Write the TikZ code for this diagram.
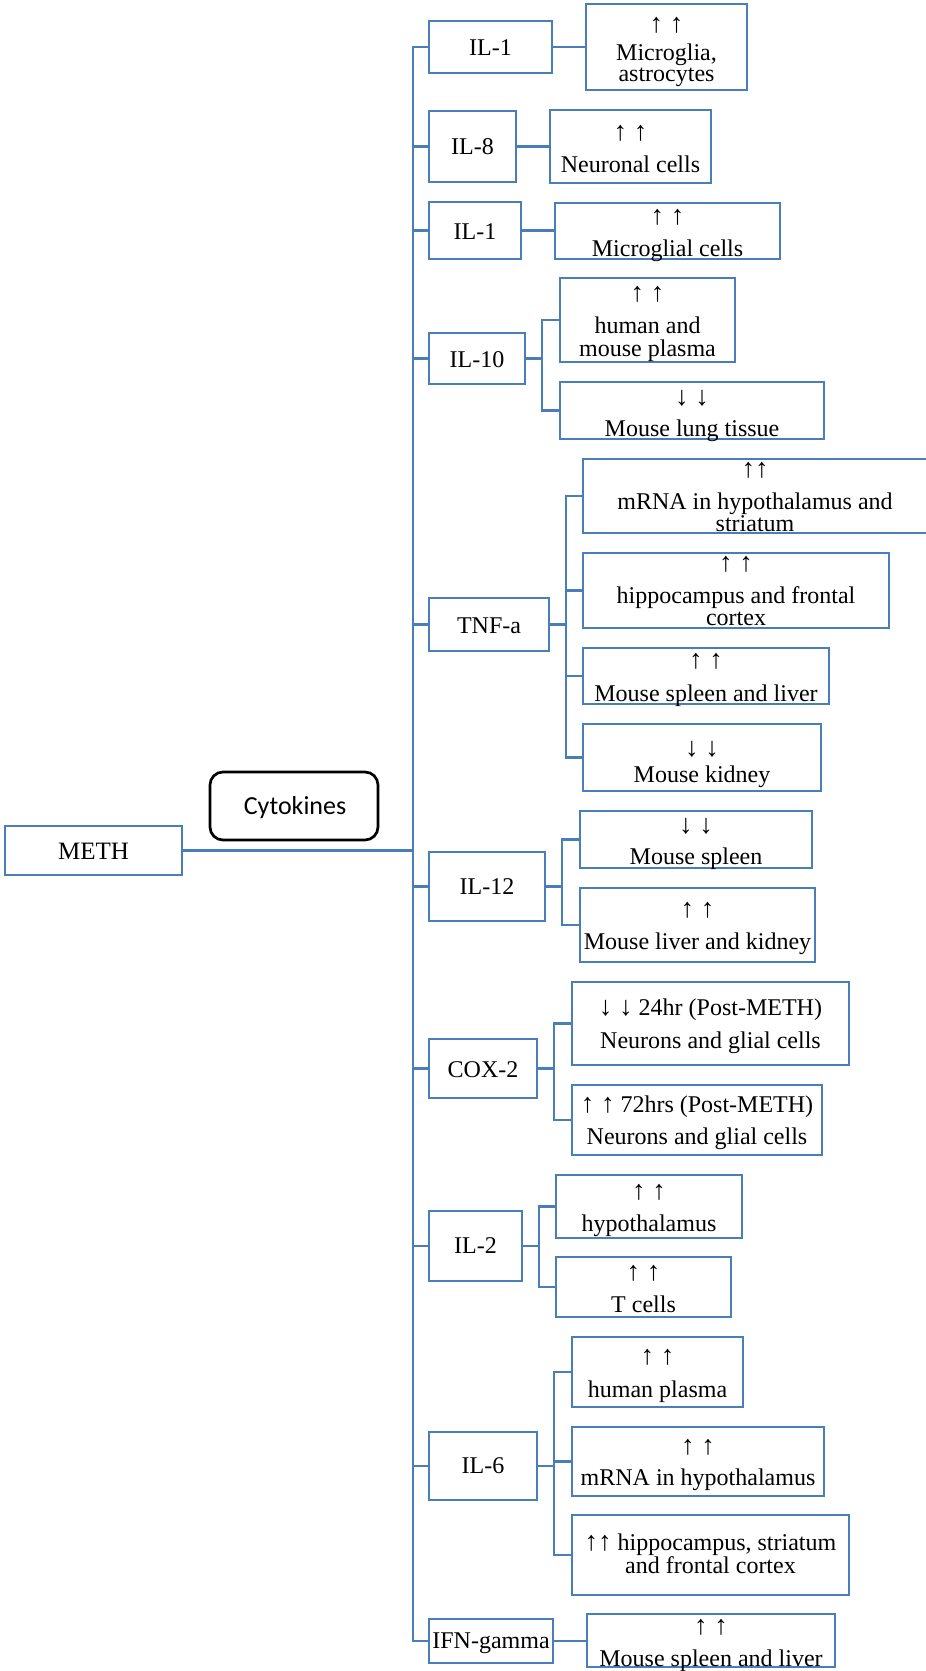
\documentclass[tikz,border=0pt]{standalone}
\usepackage{fontspec}
\setmainfont{Liberation Serif}
\newfontfamily\carlitofont{Carlito}
\definecolor{bl}{HTML}{4A7EBB}
\tikzset{
  box/.style={draw=bl, line width=2.9pt, rectangle, inner sep=0pt, outer sep=0pt, fill=white},
  conn/.style={draw=bl, line width=2.9pt, line join=miter},
  txt/.style={inner sep=0pt, outer sep=0pt, anchor=base, font=\fontsize{24}{24}\selectfont},
  arr/.style={inner sep=0pt, outer sep=0pt, anchor=center, font=\fontsize{27}{27}\selectfont},
}
\newcommand{\bx}[5]{\node[box, minimum width={(#4)-(#2)}, minimum height={(#5)-(#3)}] (#1) at ({((#2)+(#4))/2},{((#3)+(#5))/2}) {};}
\begin{document}
\begin{tikzpicture}[x=1pt, y=-1pt]
\useasboundingbox (0,0) rectangle (926,1671);
\clip (0,0) rectangle (926,1671);
\fill[white] (0,0) rectangle (926,1671);
% trunk coordinate
\coordinate (tr) at (413,0);
% boxes
\bx{meth}{5}{826}{182}{875}
\node[draw=black, line width=2.7pt, rounded corners=13pt, minimum width=168pt, minimum height=68pt, inner sep=0pt] (cyto) at (294,806) {};
\bx{il1}{429}{21}{552}{73}
\bx{il1a}{586}{4}{747}{90}
\bx{il8}{429}{111}{516}{182}
\bx{il8a}{550}{110}{711}{183}
\bx{il1b}{429}{202}{521}{259}
\bx{il1ba}{555}{203}{780}{259}
\bx{il10}{429}{333}{525}{384}
\bx{il10a}{560}{278}{735}{362}
\bx{il10b}{560}{382}{824}{439}
\bx{tnf}{429}{598}{549}{651}
\bx{tnfa}{583}{459}{930}{533}
\bx{tnfb}{583}{553}{889}{628}
\bx{tnfc}{583}{648}{829}{704}
\bx{tnfd}{583}{724}{821}{791}
\bx{il12}{429}{852}{545}{921}
\bx{il12a}{580}{811}{812}{868}
\bx{il12b}{580}{888}{815}{962}
\bx{cox}{429}{1039}{537}{1098}
\bx{coxa}{572}{982}{849}{1065}
\bx{coxb}{572}{1085}{822}{1155}
\bx{il2}{429}{1211}{522}{1281}
\bx{il2a}{556}{1175}{742}{1238}
\bx{il2b}{556}{1257}{731}{1317}
\bx{il6}{429}{1432}{537}{1500}
\bx{il6a}{572}{1337}{743}{1407}
\bx{il6b}{572}{1427}{824}{1496}
\bx{il6c}{572}{1515}{849}{1595}
\bx{ifn}{429}{1619}{553}{1663}
\bx{ifna}{587}{1614}{835}{1667}
% branch x coordinates
\coordinate (b10) at (542,0);
\coordinate (btnf) at (566,0);
\coordinate (b12) at (562,0);
\coordinate (bcox) at (554,0);
\coordinate (b2) at (539,0);
\coordinate (b6) at (554,0);
% connectors
\draw[conn] (meth.east) -- (meth.east -| tr);
\draw[conn] (il1.west) -- (il1.west -| tr) -- (ifn.west -| tr) -- (ifn.west);
\foreach \n in {il8,il1b,il10,tnf,il12,cox,il2,il6}{
  \draw[conn] (\n.west) -- (\n.west -| tr);
}
\draw[conn] (il1.east) -- (il1.east -| il1a.west);
\draw[conn] (il8.east) -- (il8.east -| il8a.west);
\draw[conn] (il1b.east) -- (il1b.east -| il1ba.west);
\draw[conn] (ifn.east) -- (ifn.east -| ifna.west);
\draw[conn] (il10.east) -- (il10.east -| b10);
\draw[conn] (il10a.west) -| (il10.east -| b10) |- (il10b.west);
\draw[conn] (tnf.east) -- (tnf.east -| btnf);
\draw[conn] (tnfa.west) -| (tnf.east -| btnf) |- (tnfd.west);
\draw[conn] (tnfb.west) -- (tnfb.west -| btnf);
\draw[conn] (tnfc.west) -- (tnfc.west -| btnf);
\draw[conn] (il12.east) -- (il12.east -| b12);
\draw[conn] (il12a.west) -| (il12.east -| b12) |- (il12b.west);
\draw[conn] (cox.east) -- (cox.east -| bcox);
\draw[conn] (coxa.west) -| (cox.east -| bcox) |- (coxb.west);
\draw[conn] (il2.east) -- (il2.east -| b2);
\draw[conn] (il2a.west) -| (il2.east -| b2) |- (il2b.west);
\draw[conn] (il6.east) -- (il6.east -| b6);
\draw[conn] (il6a.west) -| (il6.east -| b6) |- (il6c.west);
\draw[conn] (il6b.west) -- (il6b.west -| b6);
% texts
\node[txt, font=\fontsize{25}{25}\selectfont] (tmeth) at (93.5,859) {METH};
\node[txt, font=\carlitofont\fontsize{26}{26}\selectfont] (tcyto) at (295,814) {Cytokines};
\node[txt] (til1) at (490.5,55) {IL-1};
\node[arr] (ail1a) at (666.5,25.7) {↑ ↑};
\node[txt] (til1a1) at (666.5,60.7) {Microglia,};
\node[txt] (til1a2) at (666.5,81.7) {astrocytes};
\node[txt] (til8) at (472.5,154) {IL-8};
\node[arr] (ail8a) at (630.5,133) {↑ ↑};
\node[txt] (til8a) at (630.5,172) {Neuronal cells};
\node[txt] (til1b) at (475,239) {IL-1};
\node[arr] (ail1ba) at (667.5,217) {↑ ↑};
\node[txt] (til1ba) at (667.5,256) {Microglial cells};
\node[txt] (til10) at (477,367) {IL-10};
\node[arr] (ail10a) at (647.5,294) {↑ ↑};
\node[txt] (til10a1) at (647.5,333) {human and};
\node[txt] (til10a2) at (647.5,356) {mouse plasma};
\node[arr] (ail10b) at (692,398) {↓ ↓};
\node[txt] (til10b) at (692,436) {Mouse lung tissue};
\node[txt] (ttnf) at (489,633) {TNF-a};
\node[arr] (atnfa) at (755,470) {↑↑};
\node[txt] (ttnfa1) at (755,509) {mRNA in hypothalamus and};
\node[txt] (ttnfa2) at (755,531) {striatum};
\node[arr] (atnfb) at (736,564) {↑ ↑};
\node[txt] (ttnfb1) at (736,603) {hippocampus and frontal};
\node[txt] (ttnfb2) at (736,625) {cortex};
\node[arr] (atnfc) at (706,661) {↑ ↑};
\node[txt] (ttnfc) at (706,701) {Mouse spleen and liver};
\node[arr] (atnfd) at (702,749) {↓ ↓};
\node[txt] (ttnfd) at (702,782) {Mouse kidney};
\node[txt] (til12) at (487,894) {IL-12};
\node[arr] (ail12a) at (696,826) {↓ ↓};
\node[txt] (til12a) at (696,864) {Mouse spleen};
\node[arr] (ail12b) at (697.5,910) {↑ ↑};
\node[txt] (til12b) at (697.5,949) {Mouse liver and kidney};
\node[txt] (tcox) at (483,1077) {COX-2};
\node[txt] (tcoxa1) at (710.5,1015) {{\fontsize{27}{27}\selectfont↓ ↓} 24hr (Post-METH)};
\node[txt] (tcoxa2) at (710.5,1048) {Neurons and glial cells};
\node[txt] (tcoxb1) at (697,1112) {{\fontsize{27}{27}\selectfont↑ ↑} 72hrs (Post-METH)};
\node[txt] (tcoxb2) at (697,1144) {Neurons and glial cells};
\node[txt] (til2) at (475.5,1253) {IL-2};
\node[arr] (ail2a) at (649,1192) {↑ ↑};
\node[txt] (til2a) at (649,1231) {hypothalamus};
\node[arr] (ail2b) at (643.5,1273) {↑ ↑};
\node[txt] (til2b) at (643.5,1312) {T cells};
\node[txt] (til6) at (483,1473) {IL-6};
\node[arr] (ail6a) at (657.5,1357.5) {↑ ↑};
\node[txt] (til6a) at (657.5,1397) {human plasma};
\node[arr] (ail6b) at (698,1447.5) {↑ ↑};
\node[txt] (til6b) at (698,1485) {mRNA in hypothalamus};
\node[txt] (til6c1) at (710.5,1550) {{\fontsize{27}{27}\selectfont↑↑} hippocampus, striatum};
\node[txt] (til6c2) at (710.5,1573) {and frontal cortex};
\node[txt] (tifn) at (491,1648) {IFN-gamma};
\node[arr] (aifna) at (711,1627.5) {↑ ↑};
\node[txt] (tifna) at (711,1666) {Mouse spleen and liver};
\end{tikzpicture}
\end{document}
